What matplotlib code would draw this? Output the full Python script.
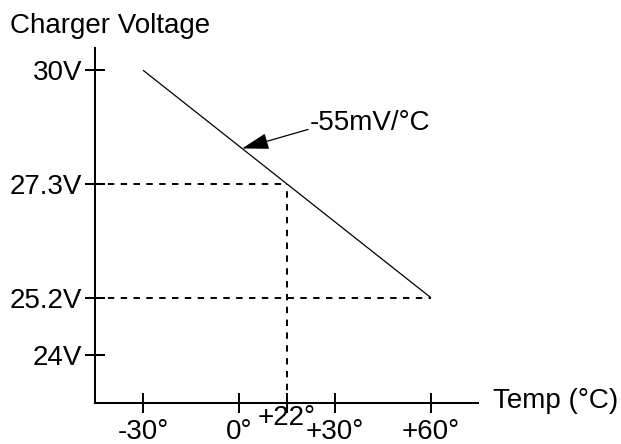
import numpy as np
import matplotlib
matplotlib.use("Agg")
import matplotlib.pyplot as plt
from matplotlib.patches import ArrowStyle

plt.rcParams['font.family'] = ['Liberation Sans', 'DejaVu Sans']

# ---- data ----
temps = [-30, 60]                 # line end temperatures (°C)
volts = [30.0, 25.2]              # charger voltage at those temperatures
set_temp = 22                     # reference temperature
set_volt = 27.3                   # voltage at reference temperature
x_ticks = [-30, 0, 22, 30, 60]
x_labels = ['-30°', '0°', '+22°', '+30°', '+60°']
y_ticks = [24, 25.2, 27.3, 30]
y_labels = ['24V', '25.2V', '27.3V', '30V']
slope_label = '-55mV/°C'

# schematic (non-proportional) axis spacing
x_anchor_units = [-1, 0, 0.5, 1, 2]
y_anchor_units = [0, 1, 3, 5]


def piecewise(xp, fp):
    xp = np.asarray(xp, float)
    fp = np.asarray(fp, float)

    def f(x):
        x = np.asarray(x, float)
        y = np.interp(x, xp, fp)
        lo_s = (fp[1] - fp[0]) / (xp[1] - xp[0])
        hi_s = (fp[-1] - fp[-2]) / (xp[-1] - xp[-2])
        y = np.where(x < xp[0], fp[0] + (x - xp[0]) * lo_s, y)
        y = np.where(x > xp[-1], fp[-1] + (x - xp[-1]) * hi_s, y)
        return y
    return f


x_fwd = piecewise(x_ticks, x_anchor_units)
x_inv = piecewise(x_anchor_units, x_ticks)
y_fwd = piecewise(y_ticks, y_anchor_units)
y_inv = piecewise(y_anchor_units, y_ticks)

fig = plt.figure(figsize=(6.21, 4.44), dpi=100)
W, H = 621, 444
left_px, right_px, top_px, bottom_px = 95, 478, 48, 403
ax = fig.add_axes([left_px / W, 1 - bottom_px / H,
                   (right_px - left_px) / W, (bottom_px - top_px) / H])
ax.set_xscale('function', functions=(x_fwd, x_inv))
ax.set_yscale('function', functions=(y_fwd, y_inv))
ax.set_xlim(float(x_inv(-1.5)), float(x_inv(2.49)))
ax.set_ylim(float(y_inv(-0.85)), float(y_inv(5.39)))

for s in ['top', 'right']:
    ax.spines[s].set_visible(False)
for s in ['left', 'bottom']:
    ax.spines[s].set_linewidth(1.45)
    ax.spines[s].set_color('black')

ax.set_xticks(x_ticks)
ax.set_xticklabels(x_labels)
ax.set_yticks(y_ticks)
ax.set_yticklabels(y_labels)
ax.minorticks_off()
ax.tick_params(axis='both', direction='inout', length=14.4, width=1.45,
               labelsize=20, colors='black')
ax.tick_params(axis='x', pad=4)
ax.tick_params(axis='y', pad=2)
# raise the +22° label
ax.xaxis.get_major_ticks()[x_ticks.index(set_temp)].set_pad(-5.5)

# main line
ax.plot(temps, volts, color='black', lw=0.9, solid_capstyle='butt')

# dashed guide lines
xmin = ax.get_xlim()[0]
ymin = ax.get_ylim()[0]
dash_kw = dict(color='black', lw=1.4, dashes=(3.3, 3.3))
ax.plot([xmin, set_temp], [set_volt, set_volt], **dash_kw)
ax.plot([set_temp, set_temp], [ymin, set_volt], **dash_kw)
ax.plot([xmin, temps[1]], [volts[1], volts[1]], **dash_kw)

# arrow annotation on the line
p0 = ax.transData.transform((temps[0], volts[0]))
p1 = ax.transData.transform((temps[1], volts[1]))
tip_disp = p0 + 0.344 * (p1 - p0)
tip = ax.transData.inverted().transform(tip_disp)
ax.annotate('', xy=tip, xytext=(47.5, 13.7), textcoords='offset points',
            arrowprops=dict(arrowstyle=ArrowStyle('-|>', head_length=16.6,
                                                  head_width=5.0),
                            mutation_scale=1, color='black', lw=0.9,
                            shrinkA=0, shrinkB=0))
ax.annotate(slope_label, xy=tip, xytext=(49, 13), textcoords='offset points',
            ha='left', va='baseline', fontsize=20)

# axis titles
fig.text(10 / W, 1 - 33 / H, 'Charger Voltage', ha='left', va='baseline',
         fontsize=20)
fig.text(493 / W, 1 - 408 / H, 'Temp (°C)', ha='left', va='baseline',
         fontsize=20)

fig.savefig('out.png', dpi=100)
